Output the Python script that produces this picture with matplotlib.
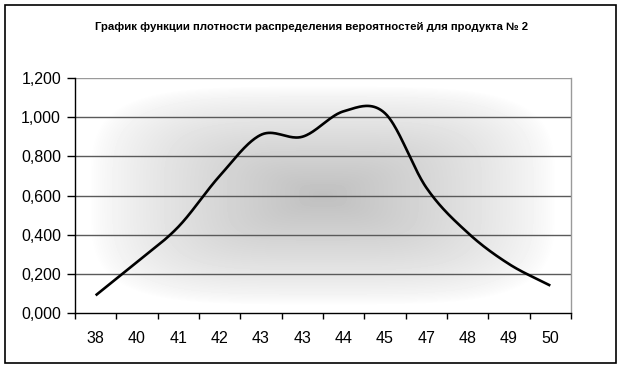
import numpy as np
import matplotlib
matplotlib.use("Agg")
import matplotlib.pyplot as plt
from matplotlib.patches import Rectangle
from matplotlib.ticker import FixedLocator, FuncFormatter

categories = ['38', '40', '41', '42', '43', '43', '44', '45', '47', '48', '49', '50']
density = [0.09, 0.26, 0.44, 0.70, 0.91, 0.90, 1.03, 1.02, 0.64, 0.41, 0.25, 0.14]
y_ticks = [0.0, 0.2, 0.4, 0.6, 0.8, 1.0, 1.2]
title = "График функции плотности распределения вероятностей для продукта № 2"

plt.rcParams['font.family'] = ['Liberation Sans', 'DejaVu Sans']

W, H = 622, 368
fig = plt.figure(figsize=(W / 100, H / 100), dpi=100)
fig.patch.set_facecolor('white')

fig.add_artist(Rectangle((5 / W, 1 - 363 / H), 611 / W, 358 / H, transform=fig.transFigure,
                         fill=False, edgecolor='black', linewidth=1.2))

ax = fig.add_axes([75 / W, 1 - 313 / H, 496 / W, 235 / H])

nx, ny = 496, 235
fx = (np.arange(nx) + 0.5) / nx
fy = (np.arange(ny) + 0.5) / ny
FX, FY = np.meshgrid(fx, fy)
u = np.abs(FX - 0.5) / 0.47
v = np.abs(FY - 0.5) / 0.466
p = 4.0
d = (u ** p + v ** p) ** (1 / p)
gray = 1 - 0.25 * np.clip(1 - d, 0, 1) ** 0.75
n = len(categories)
ax.imshow(gray, extent=(-0.5, n - 0.5, 0, 1.2), origin='lower', aspect='auto',
          cmap='gray', vmin=0, vmax=1, zorder=0, interpolation='bilinear')

xs = np.arange(n, dtype=float)
ys = np.array(density)
ext = np.concatenate([[2 * ys[0] - ys[1]], ys, [2 * ys[-1] - ys[-2]]])
cx_list, cy_list = [], []
for i in range(n - 1):
    p0, p1, p2, p3 = ext[i], ext[i + 1], ext[i + 2], ext[i + 3]
    m1 = (p2 - p0) / 2
    m2 = (p3 - p1) / 2
    t = np.linspace(0, 1, 40)
    h00 = 2 * t**3 - 3 * t**2 + 1
    h10 = t**3 - 2 * t**2 + t
    h01 = -2 * t**3 + 3 * t**2
    h11 = t**3 - t**2
    cy_list.append(h00 * p1 + h10 * m1 + h01 * p2 + h11 * m2)
    cx_list.append(xs[i] + t)
ax.plot(np.concatenate(cx_list), np.concatenate(cy_list), color='black', lw=1.9,
        zorder=3, solid_capstyle='butt')

ax.set_xlim(-0.5, n - 0.5)
ax.set_ylim(0, 1.2)

for yv in y_ticks[1:-1]:
    ax.axhline(yv, color='#5a5a5a', lw=1.0, zorder=2)
ax.axhline(1.2, color='#9a9a9a', lw=1.0, zorder=2)

ax.spines['top'].set_visible(False)
ax.spines['right'].set_color('#9a9a9a')
ax.spines['right'].set_linewidth(1.0)
ax.spines['left'].set_color('black')
ax.spines['bottom'].set_color('black')
ax.spines['left'].set_linewidth(1.0)
ax.spines['bottom'].set_linewidth(1.0)

ax.yaxis.set_major_locator(FixedLocator(y_ticks))
ax.yaxis.set_major_formatter(FuncFormatter(lambda val, pos: f"{val:.3f}".replace('.', ',')))
ax.tick_params(axis='y', direction='out', length=6, width=1, color='black',
               labelsize=11.5, pad=4, labelcolor='black')

ax.set_xticks(xs)
ax.set_xticklabels(categories)
ax.tick_params(axis='x', which='major', length=0, labelsize=11.5, pad=13)
ax.set_xticks(np.arange(n + 1) - 0.5, minor=True)
ax.tick_params(axis='x', which='minor', direction='out', length=4, width=1, color='black')

fig.text(312 / W, 1 - 27 / H, title, ha='center', va='center', fontsize=8.2,
         fontweight='bold', family=['Liberation Sans', 'DejaVu Sans'])

fig.savefig('out.png', dpi=100)
